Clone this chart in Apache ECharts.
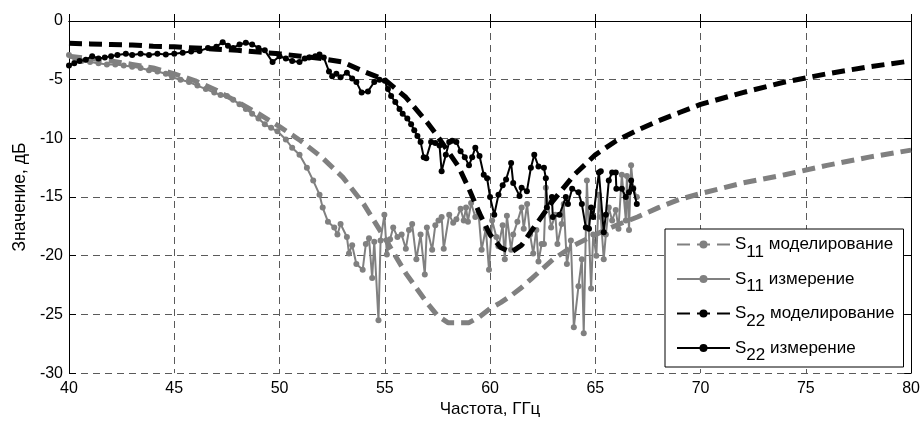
<!DOCTYPE html>
<html>
<head>
<meta charset="utf-8">
<script src="https://cdn.jsdelivr.net/npm/echarts@6/dist/echarts.min.js"></script>
<style>html,body{margin:0;padding:0;background:#fff}#c{width:923px;height:423px}</style>
</head>
<body>
<div id="c"></div>
<script>
// ---- data ----
const simFreq = [40,41,42,43,44,45,46,47,48,49,50,51,52,53,54,55,56,57,57.5,58,58.5,59,59.5,60,60.5,61,61.5,62,63,64,65,66,67,68,69,70,72,74,76,78,80];
const s11Sim = [-3.0,-3.2,-3.4,-3.7,-4.0,-4.5,-5.1,-5.9,-6.9,-7.9,-9.0,-10.2,-11.6,-13.3,-15.6,-18.5,-21.5,-24.0,-25.1,-25.7,-25.7,-25.7,-25.2,-24.5,-24.0,-23.4,-22.7,-21.9,-20.3,-19.1,-18.2,-17.4,-16.7,-15.9,-15.2,-14.7,-13.8,-13.1,-12.3,-11.6,-11.0];
const s22Sim = [-1.9,-1.95,-2.0,-2.05,-2.15,-2.2,-2.3,-2.4,-2.5,-2.65,-2.8,-3.0,-3.2,-3.5,-4.3,-5.0,-6.5,-8.6,-9.8,-11.1,-12.4,-14.3,-16.4,-18.2,-19.3,-19.7,-19.1,-17.8,-15.3,-13.1,-11.4,-10.2,-9.3,-8.5,-7.8,-7.1,-6.1,-5.2,-4.5,-3.9,-3.4];

const s11MeasFreq = [40.0,40.3,40.6,41.0,41.4,41.8,42.2,42.6,43.0,43.4,43.8,44.2,44.6,44.9,45.3,45.7,46.1,46.5,46.9,47.2,47.5,47.8,48.1,48.4,48.7,49.0,49.3,49.6,49.9,50.3,50.6,50.95,51.3,51.6,51.9,52.05,52.3,52.6,52.75,52.9,53.2,53.3,53.45,53.65,53.95,54.1,54.25,54.4,54.5,54.7,54.8,54.98,55.1,55.25,55.4,55.6,55.8,56.0,56.15,56.3,56.5,56.7,56.9,57.0,57.25,57.4,57.55,57.7,57.8,58.06,58.25,58.4,58.6,58.75,58.86,58.95,59.1,59.3,59.45,59.6,59.8,59.95,60.1,60.3,60.4,60.6,60.7,60.8,61.0,61.1,61.3,61.5,61.6,61.76,61.9,62.05,62.2,62.3,62.45,62.56,62.65,62.9,63.1,63.2,63.4,63.5,63.65,63.84,63.98,64.2,64.36,64.45,64.6,64.8,64.9,65.05,65.17,65.26,65.4,65.5,65.64,65.8,65.97,66.1,66.26,66.45,66.5,66.6,66.7,66.8,66.97];
const s11MeasVal = [-2.9,-3.3,-3.4,-3.5,-3.6,-3.7,-3.7,-3.8,-3.9,-4.0,-4.2,-4.3,-4.5,-4.8,-5.0,-5.2,-5.5,-5.8,-6.1,-6.3,-6.4,-6.7,-7.1,-7.5,-7.9,-8.3,-8.8,-9.1,-9.4,-10.1,-10.8,-11.4,-12.5,-13.6,-14.8,-15.9,-17.1,-17.6,-18.2,-17.3,-18.4,-19.8,-19.1,-20.7,-21.2,-19.0,-18.5,-21.9,-18.8,-25.5,-18.7,-16.5,-19.9,-18.6,-17.6,-18.4,-18.2,-19.4,-17.8,-17.3,-20.3,-18.2,-21.6,-17.6,-19.5,-17.4,-17.0,-16.7,-19.4,-16.5,-17.2,-16.9,-16.0,-17.0,-15.9,-17.1,-15.5,-16.7,-16.3,-19.5,-17.7,-21.2,-17.0,-18.4,-19.2,-17.4,-20.3,-16.6,-19.5,-18.2,-17.1,-15.9,-17.7,-15.6,-18.2,-19.8,-17.8,-20.5,-19.0,-19.0,-14.2,-17.6,-16.5,-19.0,-17.3,-15.6,-20.7,-18.7,-26.1,-22.6,-20.3,-26.6,-13.6,-22.8,-18.2,-20.0,-14.8,-16.7,-20.3,-18.2,-15.9,-17.0,-16.1,-17.7,-13.1,-17.0,-13.2,-17.8,-12.3,-14.2,-15.0];

const s22MeasFreq = [40.0,40.25,40.5,40.8,41.1,41.4,41.7,42.0,42.3,42.7,43.0,43.4,43.8,44.2,44.6,45.0,45.4,45.8,46.2,46.6,47.0,47.3,47.55,47.8,48.1,48.4,48.7,49.0,49.3,49.67,50.0,50.3,50.6,50.95,51.2,51.4,51.7,51.9,52.1,52.35,52.5,52.7,52.9,53.2,53.45,53.65,53.9,54.2,54.5,54.75,55.0,55.15,55.3,55.5,55.7,55.85,56.07,56.25,56.4,56.55,56.7,56.85,56.97,57.2,57.4,57.6,57.7,57.9,58.06,58.2,58.4,58.6,58.8,59.0,59.15,59.3,59.5,59.7,59.86,60.0,60.2,60.4,60.6,60.76,61.0,61.1,61.4,61.5,61.75,61.94,62.1,62.3,62.56,62.65,62.7,62.94,62.98,63.3,63.6,63.7,63.9,64.2,64.36,64.55,64.7,64.8,64.9,65.17,65.26,65.4,65.5,65.64,65.8,65.97,66.0,66.26,66.45,66.6,66.7,66.8,66.97];
const s22MeasVal = [-3.8,-3.6,-3.4,-3.3,-3.0,-3.2,-3.1,-3.0,-2.9,-2.8,-2.9,-2.8,-2.9,-2.8,-2.85,-2.8,-2.7,-2.6,-2.55,-2.3,-2.2,-1.8,-2.1,-2.3,-2.0,-1.85,-2.0,-2.3,-2.5,-3.5,-3.0,-3.2,-3.4,-3.5,-3.2,-3.1,-3.0,-2.85,-3.1,-4.3,-4.7,-4.5,-4.8,-4.4,-4.9,-5.2,-6.1,-6.0,-5.2,-5.0,-5.1,-5.8,-6.4,-6.9,-7.5,-7.9,-8.3,-8.8,-9.3,-9.8,-10.3,-11.6,-11.7,-10.3,-10.4,-10.6,-12.8,-11.4,-10.3,-10.2,-10.3,-11.1,-11.6,-12.3,-11.6,-10.8,-11.5,-13.1,-13.4,-15.0,-16.5,-14.8,-14.0,-13.5,-12.1,-13.8,-14.9,-14.2,-14.5,-12.5,-11.4,-12.4,-12.5,-13.4,-15.9,-15.0,-16.7,-16.5,-15.0,-15.6,-14.3,-14.6,-15.6,-17.6,-17.7,-15.9,-16.7,-12.9,-12.8,-18.0,-16.5,-13.6,-12.9,-12.9,-14.3,-14.3,-15.0,-14.6,-13.6,-14.3,-15.6];

const seriesNames = ['S11 моделирование','S11 измерение','S22 моделирование','S22 измерение'];
const xTitle = 'Частота, ГГц';
const yTitle = 'Значение, дБ';

// ---- chart ----
const FONT = '"Liberation Sans", Arial, sans-serif';
const zip = (a, b) => a.map((v, i) => [v, b[i]]);
const chart = echarts.init(document.getElementById('c'), null, {renderer: 'canvas'});
const gridDash = {color: '#5a5a5a', width: 1, type: [7, 5]};
const frameAxis = {color: '#000', width: 1};
const option = {
  animation: false,
  backgroundColor: '#fff',
  grid: {left: 69, right: 10, top: 21, bottom: 45, containLabel: false},
  xAxis: [
    {type: 'value', min: 40, max: 80, interval: 5, position: 'bottom',
     axisLine: {show: true, lineStyle: frameAxis},
     axisTick: {show: true, inside: true, length: 7, lineStyle: frameAxis},
     axisLabel: {color: '#000', fontSize: 16, fontFamily: FONT, margin: 7},
     splitLine: {show: true, lineStyle: gridDash},
     name: xTitle, nameLocation: 'middle', nameGap: 25,
     nameTextStyle: {color: '#000', fontSize: 17, fontFamily: FONT}},
    {type: 'value', min: 40, max: 80, interval: 5, position: 'top',
     axisLine: {show: true, onZero: false, lineStyle: frameAxis},
     axisTick: {show: true, inside: true, length: 7, lineStyle: frameAxis},
     axisLabel: {show: false}, splitLine: {show: false}}
  ],
  yAxis: [
    {type: 'value', min: -30, max: 0, interval: 5, position: 'left',
     axisLine: {show: true, onZero: false, lineStyle: frameAxis},
     axisTick: {show: true, inside: true, length: 7, lineStyle: frameAxis},
     axisLabel: {color: '#000', fontSize: 16, fontFamily: FONT, margin: 6},
     splitLine: {show: true, lineStyle: gridDash},
     name: yTitle, nameLocation: 'middle', nameGap: 40, nameRotate: 90,
     nameTextStyle: {color: '#000', fontSize: 17.5, fontFamily: FONT}},
    {type: 'value', min: -30, max: 0, interval: 5, position: 'right',
     axisLine: {show: true, onZero: false, lineStyle: frameAxis},
     axisTick: {show: true, inside: true, length: 7, lineStyle: frameAxis},
     axisLabel: {show: false}, splitLine: {show: false}}
  ],
  legend: {
    orient: 'vertical', left: 665, top: 229,
    backgroundColor: '#fff', borderColor: '#000', borderWidth: 1, borderRadius: 0,
    padding: [7, 9, 3, 11], itemGap: 10, itemWidth: 53, itemHeight: 10,
    data: seriesNames,
    formatter: function (n) { return '{m|S}{s|' + n.slice(1, 3) + '}{m|' + n.slice(3) + '}'; },
    textStyle: {color: '#000', fontSize: 17, fontFamily: FONT,
      rich: {
        m: {fontSize: 17, fontFamily: FONT, color: '#000', verticalAlign: 'middle', lineHeight: 32},
        s: {fontSize: 17, fontFamily: FONT, color: '#000', verticalAlign: 'bottom', lineHeight: 32}
      }}
  },
  series: [
    {name: seriesNames[0], type: 'line', data: zip(simFreq, s11Sim), showSymbol: false, symbol: 'circle', symbolSize: 6,
     itemStyle: {color: '#808080'}, lineStyle: {color: '#808080', width: 5, type: [13, 7]}, z: 2},
    {name: seriesNames[1], type: 'line', data: zip(s11MeasFreq, s11MeasVal), symbol: 'circle', symbolSize: 6, showAllSymbol: true,
     itemStyle: {color: '#808080'}, lineStyle: {color: '#808080', width: 2}, z: 3},
    {name: seriesNames[2], type: 'line', data: zip(simFreq, s22Sim), showSymbol: false, symbol: 'circle', symbolSize: 6,
     itemStyle: {color: '#000'}, lineStyle: {color: '#000', width: 5, type: [13, 7]}, z: 4},
    {name: seriesNames[3], type: 'line', data: zip(s22MeasFreq, s22MeasVal), symbol: 'circle', symbolSize: 6, showAllSymbol: true,
     itemStyle: {color: '#000'}, lineStyle: {color: '#000', width: 2}, z: 5}
  ]
};
chart.setOption(option);
</script>
</body>
</html>
